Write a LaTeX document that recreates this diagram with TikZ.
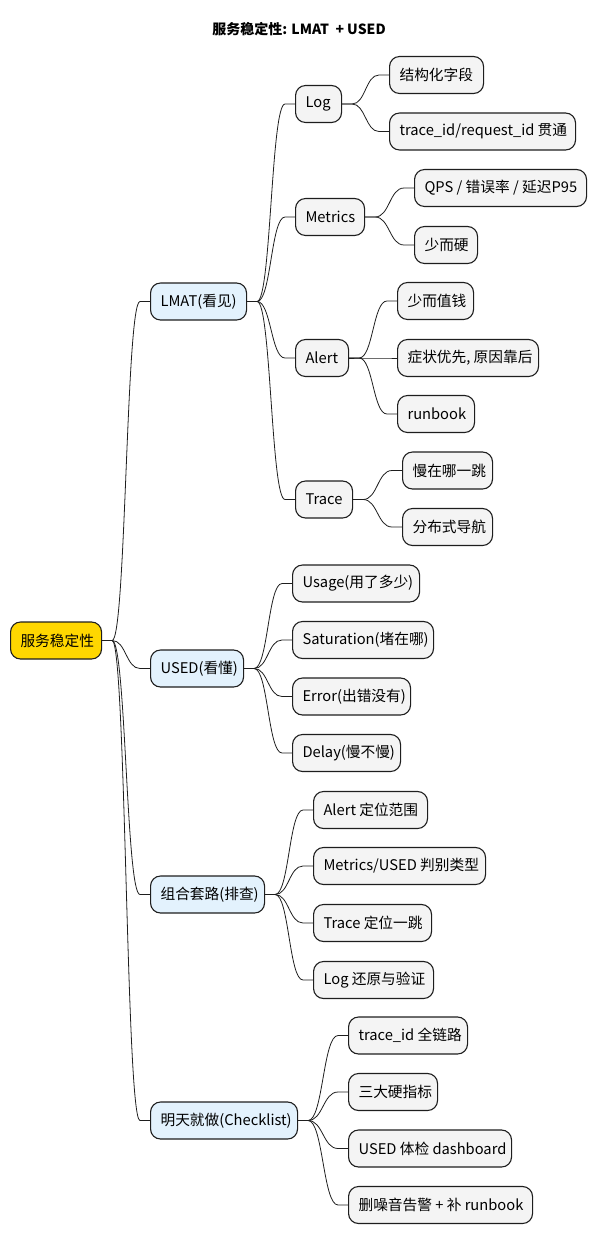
\documentclass[tikz,border=0pt]{standalone}
\usepackage{fontspec}
\setmainfont{Noto Sans CJK SC}
\usetikzlibrary{calc}
\definecolor{rootfill}{HTML}{FFD700}
\definecolor{lonefill}{HTML}{E3F2FD}
\definecolor{leaffill}{HTML}{F4F4F4}
\definecolor{edgeclr}{HTML}{1E1E1E}
\tikzset{
  mmbox/.style={draw=edgeclr, line width=1.1pt, rounded corners=10pt, anchor=west,
    minimum height=37pt, inner xsep=10pt, inner ysep=2pt, font=\fontsize{14.7}{16}\selectfont, text=black},
  mmroot/.style={mmbox, fill=rootfill},
  mmone/.style={mmbox, fill=lonefill},
  mmleaf/.style={mmbox, fill=leaffill},
  conn/.style={draw=edgeclr, line width=0.8pt},
  titletext/.style={font=\fontsize{14}{16}\selectfont\bfseries}
}
% #1 style, #2 name, #3 left x, #4 centre y, #5 width, #6 text
\newcommand\mmnode[6]{\node[#1] (#2) at (#3,#4) {\makebox[\dimexpr #5pt-20pt\relax][l]{#6}};}
\newcommand\mmedge[2]{\draw[conn] let \p1=(#1.east), \p2=(#2.west), \p3=($(\p1)!0.5!(\p2)$) in (\p1) -- (\x1+10pt,\y1) .. controls (\x3,\y1) and (\x3,\y2) .. (\x2-10pt,\y2) -- (\p2);}
\begin{document}
\begin{tikzpicture}[x=1pt,y=-1pt]
\useasboundingbox (0,0) rectangle (599,1244);
\node[titletext] (title) at (299,29) {服务稳定性: LMAT\ \ + USED};
% root
\mmnode{mmroot}{root}{10}{640.5}{91}{服务稳定性}
% level 1
\mmnode{mmone}{lmat}{150}{301.5}{96}{LMAT(看见)}
\mmnode{mmone}{used}{150}{668.5}{93}{USED(看懂)}
\mmnode{mmone}{zuhe}{150}{894.5}{114}{组合套路(排查)}
\mmnode{mmone}{ming}{150}{1120.5}{147}{明天就做(Checklist)}
% level 2
\mmnode{mmleaf}{log}{295}{104}{46}{Log}
\mmnode{mmleaf}{metrics}{295}{217}{69}{Metrics}
\mmnode{mmleaf}{alert}{295}{358}{53}{Alert}
\mmnode{mmleaf}{trace}{295}{499.5}{57}{Trace}
\mmnode{mmleaf}{usage}{292}{583.5}{127}{Usage(用了多少)}
\mmnode{mmleaf}{satur}{292}{640}{141}{Saturation(堵在哪)}
\mmnode{mmleaf}{error}{292}{696.5}{118}{Error(出错没有)}
\mmnode{mmleaf}{delay}{292}{753}{108}{Delay(慢不慢)}
\mmnode{mmleaf}{zalert}{313}{810}{114}{Alert 定位范围}
\mmnode{mmleaf}{zmetrics}{313}{866}{172}{Metrics/USED 判别类型}
\mmnode{mmleaf}{ztrace}{313}{923}{118}{Trace 定位一跳}
\mmnode{mmleaf}{zlog}{313}{980}{120}{Log 还原与验证}
\mmnode{mmleaf}{ctrace}{348}{1035.5}{119}{trace\_id 全链路}
\mmnode{mmleaf}{cthree}{348}{1092}{89}{三大硬指标}
\mmnode{mmleaf}{cused}{348}{1148.5}{163}{USED 体检 dashboard}
\mmnode{mmleaf}{cdel}{348}{1205}{184}{删噪音告警 + 补 runbook}
% level 3
\mmnode{mmleaf}{logA}{389}{75}{94}{结构化字段}
\mmnode{mmleaf}{logB}{389}{131.5}{186}{trace\_id/request\_id 贯通}
\mmnode{mmleaf}{metA}{414}{188}{172}{QPS / 错误率 / 延迟P95}
\mmnode{mmleaf}{metB}{414}{245}{63}{少而硬}
\mmnode{mmleaf}{alA}{397}{301}{76}{少而值钱}
\mmnode{mmleaf}{alB}{397}{358}{141}{症状优先, 原因靠后}
\mmnode{mmleaf}{alC}{397}{414}{77}{runbook}
\mmnode{mmleaf}{trA}{402}{470.5}{90}{慢在哪一跳}
\mmnode{mmleaf}{trB}{402}{527}{90}{分布式导航}
% connectors
\mmedge{root}{lmat}
\mmedge{root}{used}
\mmedge{root}{zuhe}
\mmedge{root}{ming}
\mmedge{lmat}{log}
\mmedge{lmat}{metrics}
\mmedge{lmat}{alert}
\mmedge{lmat}{trace}
\mmedge{log}{logA}
\mmedge{log}{logB}
\mmedge{metrics}{metA}
\mmedge{metrics}{metB}
\mmedge{alert}{alA}
\mmedge{alert}{alB}
\mmedge{alert}{alC}
\mmedge{trace}{trA}
\mmedge{trace}{trB}
\mmedge{used}{usage}
\mmedge{used}{satur}
\mmedge{used}{error}
\mmedge{used}{delay}
\mmedge{zuhe}{zalert}
\mmedge{zuhe}{zmetrics}
\mmedge{zuhe}{ztrace}
\mmedge{zuhe}{zlog}
\mmedge{ming}{ctrace}
\mmedge{ming}{cthree}
\mmedge{ming}{cused}
\mmedge{ming}{cdel}
\end{tikzpicture}
\end{document}
